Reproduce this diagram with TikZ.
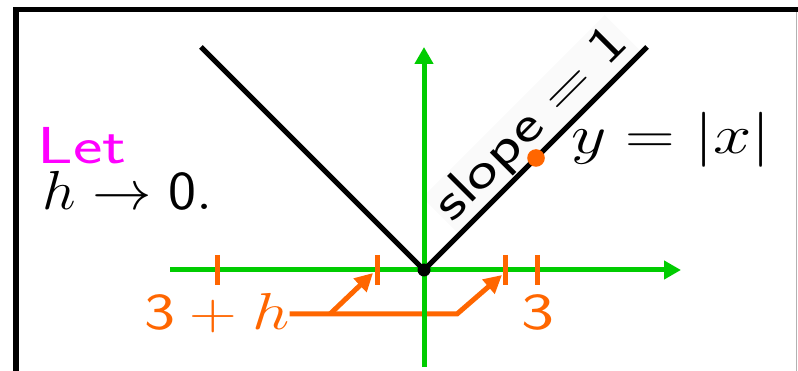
\documentclass[tikz,border=0pt]{standalone}
\usepackage{fix-cm}
\usetikzlibrary{arrows.meta}
\definecolor{axgreen}{RGB}{0,204,0}
\definecolor{myorange}{RGB}{255,102,0}
\definecolor{mymag}{RGB}{255,0,255}
\begin{document}
\begin{tikzpicture}[x=1pt,y=-1pt,
  axis/.style={draw=axgreen,line width=5pt,-{Triangle[width=18pt,length=17pt]}},
  vline/.style={draw=black,line width=5pt},
  tickmark/.style={draw=myorange,line width=5pt},
  conn/.style={draw=myorange,line width=5pt},
  connarrow/.style={conn,-{Triangle[width=18pt,length=18pt]}},
  lbl/.style={inner sep=0pt,font=\fontsize{52}{60}\selectfont},
]
\useasboundingbox (0,0) rectangle (798,371);
% frame
\draw[line width=5.5pt] (15.8,371) -- (15.8,9.5) -- (798,9.5);
\draw[gray!60,line width=1.2pt] (796.5,12) -- (796.5,371);

\coordinate (O) at (424,270);
\coordinate (xs) at (170,270);
\coordinate (xe) at (681,270);
\coordinate (ys) at (424,367);
\coordinate (ye) at (424,47);
\coordinate (vl) at (201,47);
\coordinate (vr) at (647,47);

% slope label (behind lines)
\node[lbl,rotate=45,anchor=south,inner sep=3pt,fill=black!2] (slope) at (550.6,143.4) {\scalebox{1.3}[1]{$\mathsf{slope}=\mathsf{1}$}};

% orange connector
\node[lbl,text=myorange,anchor=base west] (lab) at (144,330) {\scalebox{1.27}[1]{$\mathsf{3}+h$}};
\coordinate (j1) at (330,314);
\coordinate (j2) at (457,314);
\coordinate (a1) at (373,273);
\coordinate (a2) at (502,275);
\draw[connarrow] (lab.east |- j1) -- (j2) -- (a2);
\draw[connarrow] (j1) -- (a1);

% axes
\draw[axis] (xs) -- (xe);
\draw[axis] (ys) -- (ye);

% ticks
\draw[tickmark] (217,255) -- (217,285);
\draw[tickmark] (377,255) -- (377,285);
\draw[tickmark] (505,255) -- (505,285);
\draw[tickmark] (537,255) -- (537,285);

% V graph
\draw[vline] (vl) -- (O) -- (vr);
\fill (O) circle (6.5pt);
\fill[myorange] (536,158) circle (8.8pt);

% texts
\node[lbl,text=mymag,anchor=base west] (let) at (37.5,164) {\scalebox{1.35}[1]{$\mathsf{Let}$}};
\node[lbl,anchor=base west,font=\fontsize{55}{60}\selectfont] (hz) at (42,210) {\scalebox{1.08}[1]{$h\to\mathsf{0.}$}};
\node[lbl,anchor=base west,font=\fontsize{55}{60}\selectfont] (yx) at (571,154) {\scalebox{1.25}[1]{$y=|x|$}};
\node[lbl,text=myorange,anchor=base] (three) at (538,330) {\scalebox{1.35}[1]{$\mathsf{3}$}};
\end{tikzpicture}
\end{document}
